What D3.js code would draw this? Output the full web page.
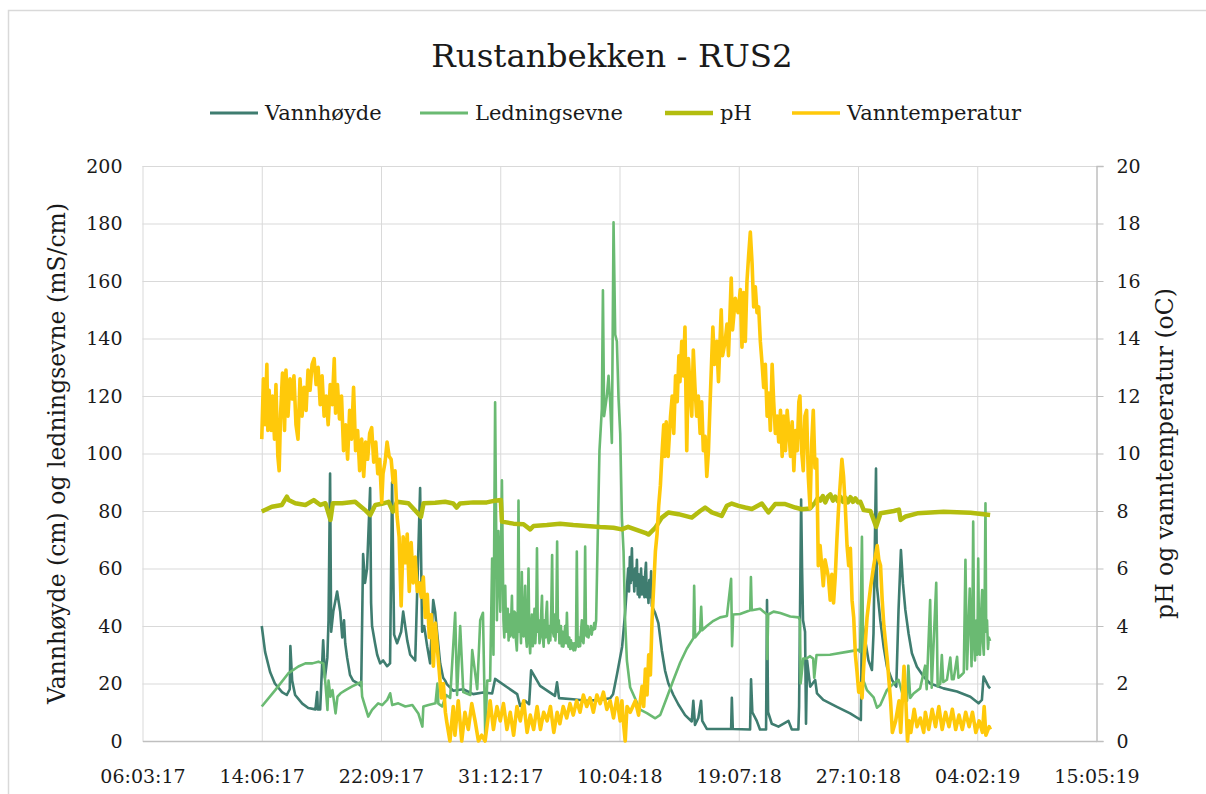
<!DOCTYPE html>
<html><head><meta charset="utf-8">
<script src="https://cdn.jsdelivr.net/npm/d3@7"></script>
<style>body{margin:0;background:#fff;} svg{display:block;}</style>
</head><body>
<svg id="chart" width="1206" height="794"></svg>
<script>
// ---------- DATA ----------
const START = "2017-03-06";            // day 0 of the day offsets below
const END = "2019-05-15";
const xTickDates = ["2017-03-06","2017-06-14","2017-09-22","2017-12-31","2018-04-10","2018-07-19","2018-10-27","2019-02-04","2019-05-15"];
const leftTicks = [0,20,40,60,80,100,120,140,160,180,200];
const rightTicks = [0,2,4,6,8,10,12,14,16,18,20];
const seriesNames = ["Vannhøyde","Ledningsevne","pH","Vanntemperatur"];
const titleText = "Rustanbekken - RUS2";
const leftTitle = "Vannhøyde (cm) og ledningsevne (mS/cm)";
const rightTitle = "pH og vanntemperatur (oC)";

// [day offset from START, value]
const vannhoyde = [[100,40],[102.8,31],[107,24],[111,20],[117,17],[121,16],[123.5,18],[124,33],[125.5,21],[128,16],[134,13],[139,11.5],[145,11],[146.5,17],[147,11],[149,11],[151.5,35],[153,22],[155,29],[156,42],[157.3,93],[158.2,38],[160,45],[163.2,52],[165.8,45],[167.5,36],[169,42],[170,34],[171.6,29],[174,23],[176.6,21],[180.8,20],[183.4,19],[185,65],[186.6,55],[188.3,60],[190.9,88],[191.7,48],[192.5,40],[195,34],[196.8,30],[199.3,27],[201.8,28],[205.1,26],[207.6,27],[209.3,90],[211,37],[213.5,34],[216.9,38],[218.6,45],[222,35],[224.5,30],[228.7,28],[232.8,88],[234.5,38],[236.2,40],[238.7,33],[241.2,27],[243.8,49],[245.4,45],[247,38],[249.6,27],[252.1,22],[253.8,21],
[255.2,19.8],[260.5,17.5],[269,18],[277.3,16.3],[285.6,16.9],[293.2,16.5],[295.7,21.6],[305.8,18.7],[314.2,16.3],[316.7,12.2],[320.8,14],[324.2,12.8],[325.9,24.6],[333.4,19.2],[345.9,15.7],[347.6,20.4],[349.3,14.9],[361,14.5],[372.8,14],[383.7,14.3],[392.2,14.9],[394.6,16.3],[398,23.4],[402.2,32.8],[404.7,44.6],[407.3,60],
[408,52],[408.7,64],[409.4,55],[410.4,67],[411,56],[411.7,59],[412.4,52],[413,60],[413.8,54],[414.6,63],[415.3,51],[416,58],[416.7,50],[417.4,53],[418.1,60],[418.8,51],[419.5,57],[420.2,56],[420.9,50],[421.5,58],[422.2,62],[422.9,50],[423.6,55],[424.3,48],[425,56],[425.8,50],[426.5,59],[427.1,47],[429.9,44.5],[432.6,41],[435.5,31.5],[438.2,24.5],[441,20],[445.2,16],[449.4,12.7],[455,9],[460.6,6.8],[461.9,14],[463.3,5.6],[466.1,8],[468.4,14],[469.4,7],[473.2,4.2],[493.6,4.2],[494.2,15],[495,4.2],[509.5,4],[510.3,21.5],[511.4,10],[515.1,7],[517.8,4],[522.9,4],[523.7,49],[524.6,10],[527.7,6],[533.3,5],[541.7,7],[544.5,4],[550,4],[550.6,12],
[552.3,84],[553.1,60],[553.9,42],[555.6,38],[556.4,6],[557.3,28],
[559.9,18.9],[564.1,21.2],[565.6,16.6],[570.9,14.3],[582.3,11.9],[593.4,9.6],[602.4,7.3],[603.3,42],[608.8,28],[611.7,24.7],[613,37.4],[615.1,94.8],[615.9,53.7],[618.7,42],[621.5,32.8],[624.3,25.8],[628.5,21.2],[632.1,18.9],[634,45.6],[636,66.4],[637.7,54.8],[639.7,45.6],[642.4,37.4],[645.2,30.5],[649.4,25.8],[655,22.4],[660.5,20],[671.7,18.3],[683,17.2],[694.2,15.4],[701.1,13.1],[703.9,14.3],[705.3,22.4],[709.5,18.9],[710.8,18.3]];

const ledningsevne = [[100,12],[111.3,17.7],[122.2,23.5],[130.7,25.9],[136.6,27],[142.5,27],[147.5,27.6],[151.7,27],[153.4,20],[155.1,10.8],[156,21],[157.6,15.4],[159.3,17.7],[161.9,9.6],[163.5,15.4],[166.1,16.6],[170.3,17.7],[175.8,19],[180.8,20],[183.4,20.6],[184.2,15.4],[186.7,12],[189.3,8.5],[192.5,10.8],[197.6,13.1],[201,12.5],[205.2,14.3],[207.7,16.6],[209.4,12.5],[214.5,13.1],[220.4,12],[226.3,12.5],[231.3,9.6],[234.7,5],[235.5,12],[239.8,12.5],[245.7,13.1],[247.3,20],[248.1,13],[251.3,12],
[254.6,16],[258,15],[262.2,44.6],[263.8,16],[266.4,40],[269,17],[274.9,16],[276.5,31.6],[280.7,18],[283.2,42],[285.5,44.6],[287.4,2],[289.1,21],[291.5,21],[293.2,63.5],[294.3,30],[295.7,117.8],[297.2,42],[298.5,73],[300,45],[301.4,90.7],[302.7,42],[303.4,36],[304.2,54],[304.9,38],[305.6,40],[306.3,46],[307,35],[307.7,44],[308.4,36.4],[309.1,42],[309.8,50.5],[310.4,37],[311.1,36],[311.8,45],[312.5,44.6],[313.2,35],[313.9,31.5],[314.6,40],[315.3,83.6],[316,38],[316.7,42],[317.4,34],[318.1,58.8],[318.8,38],[319.5,36.4],[320.2,45],[320.9,54],[321.6,36],[322.3,32.8],[323,42],[323.7,60],[324.4,35],[325.1,30.5],[325.8,38],[326.5,44],[327.3,33],[328,37],[328.7,46],[329.4,34],[330.1,40],[330.8,67],[331.5,38],[332.2,42],[332.9,34],[333.6,36.4],[334.3,44],[335,50.5],[335.7,36],[336.4,32.8],[337.1,42],[337.8,36],[338.5,44],[339.2,48.4],[339.9,36],[340.6,34],[341.3,40],[342,35],[342.8,46],[343.5,64.7],[344.2,38],[344.9,36.4],[345.6,44],[346.3,35],[347,42],[347.7,69.4],[348.4,38],[349.1,42],[349.6,34],[350.2,34],[350.9,40],[351.6,33],[352.3,38],[353,32.8],[353.7,36],[354.4,40],[355.2,34],[355.9,44.6],[356.5,36],[357.2,32.8],[357.9,36],[358.6,32],[359.3,35],[360,32.2],[360.7,34],[361.4,31.5],[362.1,34],[362.8,31.6],[363.5,33],[364.2,65.9],[364.9,34],[365.6,32.8],[366.3,36],[367,33],[367.7,38],[368.4,42],[369.1,35],[369.8,34],[370.5,40],[371.2,67.6],[371.9,37],[372.6,36.4],[373.3,40],[374,36],[374.7,38],[375.3,37.5],[376,40],[376.7,37],[377.4,39],[378.1,38.7],[378.8,41],[379.5,39],[380.4,42],[381.5,65.9],[383.2,101],[385.2,115.5],[386.1,156.8],[387.1,113],[389.4,120],[390.8,127],[392.2,117.8],[393.6,103.7],[395,180.4],[396.4,141.4],[397.8,139],[399.2,119],[400.6,107],[402,77.7],[403.4,65.9],[404.7,42],[406.2,28],[408.9,18.7],
[417.3,10.9],[423,9.7],[430,7.9],[434.2,9.1],[439.8,15.2],[445.2,21.2],[450.9,27.3],[456.4,32.1],[462,35.8],[462.6,54],[463.4,36],[467.6,38.2],[468.5,46.7],[469.3,38.5],[473.2,40],[478.8,41.8],[484.4,43],[490.1,43.5],[493.6,56.4],[494.4,33],[495.3,44],[501.1,44.2],[509.6,45.5],[510.2,57],[510.9,45.5],[517.9,46],[523.7,44],[523.9,28.5],[524.7,44],[529.2,45],[534.8,44.5],[543.2,43.3],[550.2,43],[551.3,42],[551.9,20],[554.1,28.7],[556.9,28.7],[559.6,29.5],[562.4,28.7],[563.3,22],[565.2,29.9],[576.5,30],[590.6,31],[600.4,31.7],[601.8,31],[603.3,71],[604.6,21],[607.5,17.7],[613.1,15.2],[615.9,11.6],[618.7,12.5],[624.2,17.7],[629.8,20],[634,21.3],[638.2,15],[641.1,14],[642.2,26.2],[643.8,15],[646.6,16.5],[652.1,18.3],[656.3,26.2],[657.6,18],[660.5,49],[661.8,18.5],[665.6,55],[666.8,19],[669,20],[670.3,29.9],[671.5,20.5],[674.6,21.3],[677.4,29],[678.7,21.5],[680.2,21.5],[683.1,29.3],[684.2,22],[685.9,22.6],[688.7,23.8],[690.1,63],[691.4,25],[692.5,38],[693.7,53],[695.2,26],[695.9,40],[696.6,76.3],[697.4,34],[698.1,28],[699.4,42],[700.1,30],[700.8,63.5],[701.5,36],[702.3,30],[703.2,44],[704.1,52.5],[704.8,34],[705.5,30],[706.2,48],[706.9,82.7],[707.5,38],[708.2,42],[709,32],[709.7,36],[710.8,34.8]];

const pH = [[100,7.98],[108.5,8.15],[116.9,8.21],[121.1,8.5],[122.5,8.38],[128.1,8.27],[136.6,8.21],[143.6,8.38],[149.2,8.21],[153.4,8.27],[157.6,7.69],[159.6,8.27],[167.5,8.27],[178.3,8.32],[186.7,8.03],[191,7.86],[195.2,8.21],[200.7,8.25],[206.3,8.32],[210,7.98],[213.4,8.32],[223,8.27],[233.5,7.8],[235.7,8.27],[245.4,8.29],[253.8,8.32],[260.6,8.26],[263.4,8.12],[266.2,8.26],[277.4,8.3],[288.7,8.3],[295.7,8.36],[300.5,8.38],[301.4,7.63],[311.1,7.56],[319.5,7.54],[325.1,7.36],[327.9,7.48],[339.1,7.51],[350.2,7.56],[361.2,7.51],[372.5,7.48],[383.7,7.44],[394.9,7.42],[401.9,7.36],[407.2,7.45],[413.1,7.36],[421.5,7.24],[424.3,7.18],[429.9,7.41],[435.5,7.77],[441,7.95],[449.5,7.89],[460.7,7.77],[467.6,8.0],[471.8,8.12],[477.4,7.95],[485.7,7.83],[490,8.18],[494.2,8.26],[499.8,8.18],[505.4,8.12],[511,8.07],[519.4,8.26],[524.9,7.95],[530.5,8.24],[539,8.24],[547.4,8.12],[552.9,8.06],[559.9,8.09],[564.1,8.3],[566.2,8.45],[568.4,8.36],[570.5,8.52],[572.6,8.3],[574.7,8.5],[576.8,8.58],[579,8.36],[581,8.5],[583.1,8.34],[585.2,8.5],[587.4,8.32],[589.5,8.46],[591.6,8.3],[593.7,8.48],[595.8,8.32],[597.8,8.44],[600,8.3],[602,8.32],[604.8,8.03],[610.4,8.0],[615.2,7.45],[618.9,7.92],[630.1,8.0],[634.3,8.05],[635.7,7.69],[640,7.81],[649.8,7.92],[671.8,7.97],[694.4,7.94],[710.8,7.86]];

const vanntemperatur = [[100,10.5],[101.4,12.6],[102.8,11.0],[104.3,13.1],[105.1,10.8],[106.2,12.2],[107.9,10.8],[109,12.0],[110.7,10.5],[111.9,12.4],[113.5,9.9],[114.6,9.4],[115.8,11.4],[117.4,12.8],[119.1,10.8],[120.3,12.9],[122,11.3],[123.7,12.6],[125.4,11.9],[127,12.7],[128.7,11.0],[130.4,10.5],[132.1,12.6],[133.8,11.3],[135.5,12.3],[137.2,11.5],[138.8,12.9],[140.5,12.2],[142.2,13.1],[143.9,13.3],[145.6,12.4],[147.3,13.0],[149,11.7],[150.6,12.7],[152.3,11.3],[154,12.0],[155.7,11.0],[157.4,12.4],[159.1,11.7],[160.8,13.3],[161.9,11.4],[163.5,12.4],[165.2,11.2],[166.9,12.0],[168.6,10.1],[170.3,11.0],[172,9.8],[173.7,11.5],[175.3,10.5],[177,12.3],[178.7,10.1],[180.4,10.8],[182.1,9.4],[183.8,10.5],[185.5,9.2],[187.1,10.4],[188.8,9.8],[190.5,10.7],[192.2,10.9],[193.9,9.7],[195.6,10.4],[197.3,9.3],[198.9,9.8],[200.6,8.3],[201.7,9.3],[203.4,9.7],[205.1,10.4],[206.8,9.9],[208.5,9.8],[210.2,9.0],[211.8,9.4],[213.5,7.8],[215.2,7.1],[216.9,4.7],[218.6,7.1],[220.3,6.2],[222,7.2],[223.7,5.2],[225.3,6.9],[227,5.5],[228.7,6.4],[230.4,5.2],[232.1,5.5],[233.8,5.0],[235.5,5.7],[237.1,4.3],[238.8,5.1],[240.5,3.6],[242.2,4.4],[243.9,2.6],[245.6,4.1],[247.3,3.2],[248.9,2.4],[250.6,1.5],[252.3,2.0],[254,1.0],
[255,0.7],[257.8,0],[260.6,1.2],[262,0.2],[264.8,1.4],[267.7,0],[270.4,1.0],[273.2,0.4],[276.1,1.3],[278.9,0.7],[281.7,0],[284.5,0.2],[287.3,0],[290.1,0.9],[291.5,1.4],[294.3,0.4],[297.2,1.2],[300,0.7],[302.7,1.3],[305.6,0.4],[308.4,1.0],[311.2,0.2],[314,1.2],[316.8,0.7],[319.6,1.4],[322.5,0.3],[325.2,0.9],[328,0.4],[330.9,1.2],[333.7,0.4],[336.4,1.0],[339.3,0.7],[342.1,1.2],[344.9,0.3],[347.7,1.0],[350,0.6],[352.8,1.2],[355.7,0.8],[358.5,1.3],[361.2,0.9],[364.1,1.4],[366.9,1.0],[369.7,1.6],[372.5,1.2],[375.3,1.5],[378.1,1.0],[381,1.6],[383.8,1.3],[386.5,1.7],[389.4,1.1],[392.2,1.4],[395,0.8],[397.8,1.5],[400.6,0.7],[402,1.4],[403.4,0.6],[404.8,0],[406.3,1.2],[409,1.0],
[413.3,1.4],[416,0.9],[418.9,1.9],[420.3,1.2],[421.7,2.5],[423.1,1.6],[424.5,3.0],[425.9,2.3],[427.3,4.2],[428.7,5.4],[430.1,6.6],[431.5,7.2],[432.9,8.2],[434.3,8.9],[435.8,10.1],[437.1,11.0],[438,9.9],[439.2,11.1],[440.8,9.9],[442.8,11.3],[444.2,12.0],[445.5,10.7],[447,12.7],[448.4,11.8],[449.8,13.4],[450.7,12.5],[452.2,13.9],[453.5,12.7],[454.9,14.4],[456.4,10.1],[457.8,13.3],[459.2,12.3],[460.6,11.3],[461.9,13.6],[463.3,12.3],[464.7,11.3],[466.1,12.0],[467.6,10.7],[468.9,11.8],[470.3,10.1],[471.8,10.6],[473.2,9.2],[474.6,10.1],[476,11.8],[477.4,13.4],[478.3,14.4],[479.6,13.1],[481.6,13.9],[483,12.5],[485.3,15.0],[486.4,13.4],[488.6,13.9],[490.1,14.5],[491.4,13.4],[493.7,16.1],[494.8,14.3],[497.1,15.4],[499.4,14.9],[501.3,15.7],[502.7,13.7],[504.1,15.6],[505.5,13.9],[506.9,16.0],[508.3,16.9],[509.7,17.7],[511.2,16.6],[512.5,15.1],[513.9,15.8],[515.3,14.9],[516.7,15.1],[518.1,13.9],[519.6,13.1],[520.9,12.3],[522.3,13.1],[523.8,11.3],[525.1,12.1],[526.5,10.8],[528,13.1],[529.3,11.8],[530.7,10.7],[532.2,11.3],[533.5,10.4],[535,11.5],[536.4,9.9],[537.8,11.3],[539.2,10.1],[540.6,11.5],[542,10.8],[543.4,9.9],[544.8,11.1],[546.2,9.4],[547.6,10.8],[549,10.1],[550.4,11.8],[551.3,12.0],[552.7,10.1],[554.1,9.4],[555.5,11.3],[556.9,11.5],[558.3,9.2],[559.8,8.1],[561.2,10.4],
[562.5,11.5],[563.9,9.5],[565.4,9.8],[566.7,6.1],[568.2,6.8],[570.9,5.4],[572.4,6.3],[575.2,5.7],[576.7,4.9],[578.1,5.8],[579.5,4.8],[580.9,5.7],[582.3,7.0],[583.7,8.1],[586.5,9.8],[587.9,9.2],[589.4,8.1],[590.8,6.8],[592.2,6.1],[593.6,6.7],[595,4.9],[596.4,4.3],[597.8,3.0],[599.2,2.4],[600.6,1.7],[602,2.0],[603.4,1.5],[604.8,2.6],[607.6,4.3],[610.4,5.3],[613.2,6.1],[616.1,6.8],[617.5,6.3],[618.9,6.1],[620.3,4.9],[621.7,4.0],[624.6,2.8],[627.3,1.4],[628.8,0.3],[631.6,0.7],[634.4,1.4],[635.8,0.3],[638.6,2.6],[640.1,1.4],[641.5,0],[642.9,0.7],[644.3,0.3],[647.1,1.1],[649.5,0.5],[652.3,0.8],[655.1,0.3],[656.5,1.0],[659.3,0.4],[662.2,1.1],[665,0.5],[667.8,1.2],[670.6,0.4],[673.4,1.0],[676.3,0.5],[679.1,1.1],[681.9,0.4],[684.7,0.9],[687.5,0.4],[690.3,1.0],[693.2,0.5],[696,1.0],[698.8,0.3],[701.6,0.7],[704.4,0.3],[705.8,1.2],[707.2,0.2],[710,0.5],[711,0.4]];

// ---------- CHART ----------
const FONT = "'DejaVu Serif', 'Liberation Serif', serif";
const TXT = "#1a1a1a";
const svg = d3.select("#chart");
const parse = d3.utcParse("%Y-%m-%d");
const t0 = parse(START);
const toDate = d => new Date(t0.getTime() + d * 864e5);

const L = 142.5, R = 1096.5, T = 166, B = 741;
const x = d3.scaleUtc().domain([parse(START), parse(END)]).range([L, R]);
const yL = d3.scaleLinear().domain([0, 200]).range([B, T]);
const yR = d3.scaleLinear().domain([0, 20]).range([B, T]);

svg.append("rect").attr("width", 1206).attr("height", 794).attr("fill", "#fff");
svg.append("rect").attr("x", 8.5).attr("y", 10.5).attr("width", 1220).attr("height", 820)
  .attr("fill", "none").attr("stroke", "#d9d9d9").attr("stroke-width", 1.5);

// horizontal grid
svg.append("g").attr("transform", `translate(${L},0)`)
  .call(d3.axisLeft(yL).tickValues(leftTicks).tickSize(-(R - L)).tickFormat(""))
  .call(g => g.select(".domain").remove())
  .call(g => g.selectAll("line").attr("stroke", "#d9d9d9"));
// vertical grid
svg.append("g").attr("transform", `translate(0,${B})`)
  .call(d3.axisBottom(x).tickValues(xTickDates.map(parse)).tickSize(-(B - T)).tickFormat(""))
  .call(g => g.select(".domain").remove())
  .call(g => g.selectAll("line").attr("stroke", "#d9d9d9"));

// bottom axis
svg.append("g").attr("transform", `translate(0,${B})`)
  .call(d3.axisBottom(x).tickValues(xTickDates.map(parse)).tickFormat(d3.utcFormat("%d:%m:%y")).tickSize(0).tickPadding(27))
  .call(g => g.select(".domain").attr("stroke", "#bfbfbf").attr("stroke-width", 1.3))
  .call(g => g.selectAll("text").attr("font-family", FONT).attr("font-size", 19).attr("fill", TXT).attr("dy", "0.78em"));

// left axis labels
svg.append("g").attr("transform", `translate(${L},0)`)
  .call(d3.axisLeft(yL).tickValues(leftTicks).tickSize(0).tickPadding(20))
  .call(g => g.select(".domain").remove())
  .call(g => g.selectAll("text").attr("font-family", FONT).attr("font-size", 19).attr("fill", TXT));

// right axis
svg.append("g").attr("transform", `translate(${R},0)`)
  .call(d3.axisRight(yR).tickValues(rightTicks).tickSize(7).tickPadding(13))
  .call(g => g.select(".domain").attr("stroke", "#bfbfbf").attr("stroke-width", 1.3))
  .call(g => g.selectAll("line").attr("stroke", "#bfbfbf"))
  .call(g => g.selectAll("text").attr("font-family", FONT).attr("font-size", 19).attr("fill", TXT));

// series
const series = [
  { name: seriesNames[0], data: vannhoyde, y: yL, color: "#3f7d70", w: 2.6 },
  { name: seriesNames[1], data: ledningsevne, y: yL, color: "#6aba72", w: 2.6 },
  { name: seriesNames[2], data: pH, y: yR, color: "#b3bd0f", w: 4.5 },
  { name: seriesNames[3], data: vanntemperatur, y: yR, color: "#ffc90a", w: 3.6 }
];
series.forEach(s => {
  const line = d3.line().x(d => x(toDate(d[0]))).y(d => s.y(d[1]));
  svg.append("path").datum(s.data).attr("d", line)
    .attr("fill", "none").attr("stroke", s.color).attr("stroke-width", s.w)
    .attr("stroke-linejoin", "round");
});

// title
svg.append("text").attr("x", 612).attr("y", 67).attr("text-anchor", "middle")
  .attr("font-family", FONT).attr("font-size", 32.5).attr("fill", TXT).text(titleText);

// legend
const legendX = [210, 420, 665, 792];
series.forEach((s, i) => {
  const g = svg.append("g").attr("transform", `translate(${legendX[i]},113)`);
  g.append("line").attr("x1", 0).attr("x2", 48).attr("stroke", s.color).attr("stroke-width", Math.max(3, s.w));
  g.append("text").attr("x", 55).attr("y", 0).attr("dy", "0.35em")
    .attr("font-family", FONT).attr("font-size", 21).attr("fill", TXT).text(s.name);
});

// axis titles
svg.append("text").attr("transform", `translate(57,${(T + B) / 2}) rotate(-90)`)
  .attr("text-anchor", "middle").attr("dy", "0.35em")
  .attr("font-family", FONT).attr("font-size", 23.5).attr("fill", TXT).text(leftTitle);
svg.append("text").attr("transform", `translate(1165,${(T + B) / 2}) rotate(-90)`)
  .attr("text-anchor", "middle").attr("dy", "0.35em")
  .attr("font-family", FONT).attr("font-size", 23.5).attr("fill", TXT).text(rightTitle);
</script>
</body></html>
